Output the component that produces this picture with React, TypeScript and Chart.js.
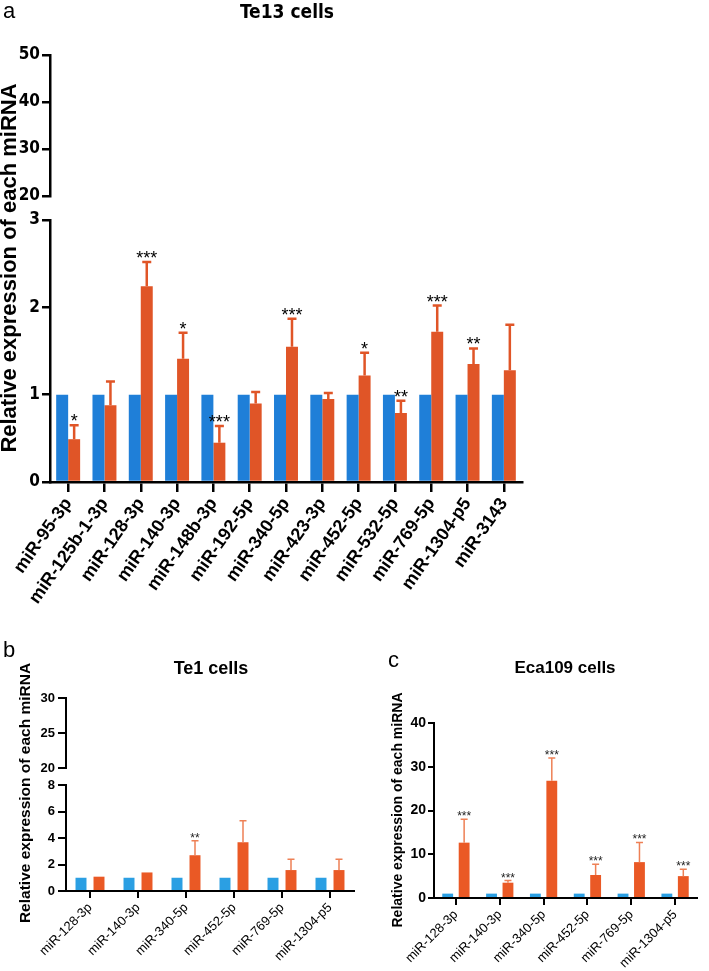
import React, { useEffect, useRef, useState } from 'react';
import { Chart, registerables } from 'chart.js';
Chart.register(...registerables);

// ---------- data ----------
const catsA = ['miR-95-3p', 'miR-125b-1-3p', 'miR-128-3p', 'miR-140-3p', 'miR-148b-3p', 'miR-192-5p', 'miR-340-5p', 'miR-423-3p', 'miR-452-5p', 'miR-532-5p', 'miR-769-5p', 'miR-1304-p5', 'miR-3143'];
const controlA = [1, 1, 1, 1, 1, 1, 1, 1, 1, 1, 1, 1, 1];
const meanA = [0.49, 0.88, 2.24, 1.41, 0.45, 0.90, 1.55, 0.95, 1.22, 0.79, 1.72, 1.35, 1.28];
const sdA = [0.16, 0.27, 0.28, 0.30, 0.19, 0.13, 0.32, 0.07, 0.26, 0.14, 0.30, 0.18, 0.52];
const starsA = ['*', '', '***', '*', '***', '', '***', '', '*', '**', '***', '**', ''];

const catsBC = ['miR-128-3p', 'miR-140-3p', 'miR-340-5p', 'miR-452-5p', 'miR-769-5p', 'miR-1304-p5'];
const controlB = [1, 1, 1, 1, 1, 1];
const meanB = [1.08, 1.40, 2.70, 3.68, 1.58, 1.58];
const sdB = [0, 0, 1.10, 1.62, 0.82, 0.82];
const starsB = ['', '', '**', '', '', ''];

const controlC = [1, 1, 1, 1, 1, 1];
const meanC = [12.65, 3.5, 26.8, 5.26, 8.2, 5.0];
const sdC = [5.35, 0.5, 5.2, 2.44, 4.5, 1.6];
const starsC = ['***', '***', '***', '***', '***', '***'];

const yTicksATop = [20, 30, 40, 50];
const yTicksABottom = [0, 1, 2, 3];
const yTicksBTop = [20, 25, 30];
const yTicksBBottom = [0, 2, 4, 6, 8];
const yTicksC = [0, 10, 20, 30, 40];

const yTitle = 'Relative expression of each miRNA';

const FONT = '"Liberation Sans", Arial, Helvetica, sans-serif';
const NARROW = '"DejaVu Sans Condensed", "Liberation Sans", sans-serif';

// ---------- plugins ----------
function makeErrPlugin(sd: number[], stars: string[], s: any) {
  return {
    id: 'errStars',
    afterDatasetsDraw(chart: any) {
      const meta = chart.getDatasetMeta(1);
      const y = chart.scales.y;
      const ctx = chart.ctx;
      const data = chart.data.datasets[1].data as number[];
      ctx.save();
      meta.data.forEach((bar: any, i: number) => {
        const mean = data[i];
        const x = bar.x;
        const yb = y.getPixelForValue(mean);
        const yt = y.getPixelForValue(mean + sd[i]);
        if (sd[i] > 0) {
          ctx.strokeStyle = s.errColor;
          ctx.lineWidth = s.errW;
          ctx.beginPath();
          ctx.moveTo(x, yb);
          ctx.lineTo(x, yt);
          ctx.moveTo(x - s.cap / 2, yt);
          ctx.lineTo(x + s.cap / 2, yt);
          ctx.stroke();
        }
        if (stars[i]) {
          ctx.fillStyle = s.starColor;
          ctx.font = s.starFont;
          ctx.textAlign = 'center';
          ctx.textBaseline = 'alphabetic';
          ctx.fillText(stars[i], x, yt + s.starOff);
        }
      });
      ctx.restore();
    },
  };
}

// texts given in page coordinates; ox/oy = canvas offset on the page
function makeTextPlugin(texts: any[], ox: number, oy: number) {
  return {
    id: 'panelTexts',
    afterDraw(chart: any) {
      const ctx = chart.ctx;
      texts.forEach((t) => {
        ctx.save();
        ctx.fillStyle = '#000';
        ctx.font = t.font;
        ctx.textAlign = t.align || 'left';
        ctx.textBaseline = 'alphabetic';
        ctx.translate(t.x - ox, t.y - oy);
        if (t.rot) ctx.rotate(t.rot);
        ctx.fillText(t.text, 0, 0);
        ctx.restore();
      });
    },
  };
}

function yAxis(p: any, min: number, max: number, ticks: number[], extra: any) {
  return {
    type: 'linear',
    display: true,
    min,
    max,
    afterBuildTicks: (scale: any) => { scale.ticks = ticks.map((v: number) => ({ value: v })); },
    grid: { display: true, drawOnChartArea: false, drawTicks: true, tickLength: p.yTickLen, color: '#000', lineWidth: p.axisW },
    border: { display: true, color: '#000', width: p.axisW },
    ticks: { padding: p.yPad, color: '#000', font: p.yFont },
    afterFit: (scale: any) => { scale.width = p.yWidth; },
    ...extra,
  };
}

function buildConfig(p: any) {
  const datasets = [
    { label: 'control', data: p.control, yAxisID: 'y', backgroundColor: p.blue, barPercentage: p.barPct, categoryPercentage: p.catPct },
    { label: 'treated', data: p.mean, yAxisID: 'y', backgroundColor: p.orange, barPercentage: p.barPct, categoryPercentage: p.catPct },
  ];
  const scales: any = {
    x: {
      grid: { offset: false, drawOnChartArea: false, tickLength: p.xTickLen, color: '#000', lineWidth: p.axisW },
      border: { color: '#000', width: p.axisW },
      ticks: { autoSkip: false, maxRotation: p.rot, minRotation: p.rot, padding: p.xPad, color: '#000', font: p.xFont },
      afterFit: (scale: any) => { scale.height = p.xHeight; },
    },
  };
  if (p.broken) {
    const b = p.broken;
    scales.y = yAxis(p, b.low[0], b.low[1], b.lowTicks, { stack: 'brk', stackWeight: b.wLow });
    scales.yGap = {
      type: 'linear', display: true, min: 0, max: 1, stack: 'brk', stackWeight: b.wGap,
      grid: { display: false }, border: { display: false }, ticks: { display: false },
      afterFit: (scale: any) => { scale.width = p.yWidth; },
    };
    scales.yTop = yAxis(p, b.high[0], b.high[1], b.highTicks, { stack: 'brk', stackWeight: b.wHigh });
  } else {
    scales.y = yAxis(p, p.yMin, p.yMax, p.yTicks, {});
  }
  return {
    type: 'bar',
    data: { labels: p.labels, datasets },
    plugins: [makeErrPlugin(p.sd, p.stars, p.err), makeTextPlugin(p.texts, p.left, p.top)],
    options: {
      responsive: false,
      animation: false,
      devicePixelRatio: 1,
      layout: { padding: p.padding },
      plugins: { legend: { display: false }, tooltip: { enabled: false } },
      scales,
    },
  };
}

function ChartBox({ cfg, onAxis }: any) {
  const ref = useRef<HTMLCanvasElement | null>(null);
  useEffect(() => {
    if (!ref.current) return;
    const chart: any = new Chart(ref.current, buildConfig(cfg) as any);
    const t = chart.scales.yTop;
    if (t && onAxis) {
      // geometry of the upper axis segment, taken from the chart's own scale
      onAxis({
        x: cfg.left + t.right,
        top: cfg.top + t.top,
        bottom: cfg.top + t.bottom,
        ticks: t.ticks.map((_: any, i: number) => cfg.top + t.getPixelForTick(i)),
        w: cfg.axisW,
        len: cfg.yTickLen,
      });
    }
    return () => chart.destroy();
  }, []);
  return (
    <canvas
      ref={ref}
      width={cfg.width}
      height={cfg.height}
      style={{ position: 'absolute', left: cfg.left, top: cfg.top, width: cfg.width, height: cfg.height }}
    />
  );
}

function AxisSegment({ a }: any) {
  return (
    <>
      <div style={{ position: 'absolute', left: a.x - a.w / 2, top: a.top - a.w / 2, width: a.w, height: a.bottom - a.top + a.w, background: '#000' }} />
      {a.ticks.map((ty: number, i: number) => (
        <div key={i} style={{ position: 'absolute', left: a.x - a.len, top: ty - a.w / 2, width: a.len, height: a.w, background: '#000' }} />
      ))}
    </>
  );
}

// ---------- panel configs ----------
const blueA = '#1f7fd8';
const orangeA = '#e05527';
const blueB = '#2b9fe3';
const orangeB = '#ea5925';
const UP = -Math.PI / 2;

const errA = { errColor: orangeA, errW: 2.5, cap: 9, starColor: '#000', starFont: `18px ${FONT}`, starOff: 2 };
const errBC = { errColor: '#ee8055', errW: 1.5, cap: 7, starColor: '#222', starFont: `12px ${FONT}`, starOff: 1 };

const cfgA = {
  left: 0, top: 0, width: 540, height: 605,
  labels: catsA, control: controlA, mean: meanA, sd: sdA, stars: starsA,
  blue: blueA, orange: orangeA, catPct: 0.66, barPct: 1,
  axisW: 2.5, yTickLen: 8, xTickLen: 10, yPad: 2, xPad: 2, rot: 55,
  yFont: { family: NARROW, size: 17, weight: 'bold' },
  xFont: { family: FONT, size: 18, weight: 'bold' },
  yWidth: 50, err: errA,
  broken: { low: [0, 3], lowTicks: yTicksABottom, high: [20, 50], highTicks: yTicksATop, wLow: 262, wGap: 24, wHigh: 141 },
  padding: { top: 55, bottom: 0, left: 0, right: 18 }, xHeight: 123,
  texts: [
    { text: 'a', x: 3, y: 18, font: `22px ${FONT}` },
    { text: 'Te13 cells', x: 287, y: 18, font: `bold 19px ${NARROW}`, align: 'center' },
    { text: yTitle, x: 16, y: 268, font: `bold 22px ${FONT}`, align: 'center', rot: UP },
  ],
};

const cfgB = {
  left: 0, top: 630, width: 370, height: 341,
  labels: catsBC, control: controlB, mean: meanB, sd: sdB, stars: starsB,
  blue: blueB, orange: orangeB, catPct: 0.75, barPct: 0.61,
  axisW: 2, yTickLen: 8, xTickLen: 7, yPad: 3, xPad: 2, rot: 45,
  yFont: { family: FONT, size: 13, weight: 'bold' },
  xFont: { family: FONT, size: 13, weight: 'normal' },
  yWidth: 66, err: errBC,
  broken: { low: [0, 8], lowTicks: yTicksBBottom, high: [20, 30], highTicks: yTicksBTop, wLow: 106, wGap: 17, wHigh: 70 },
  padding: { top: 68, bottom: 0, left: 0, right: 16 }, xHeight: 80,
  texts: [
    { text: 'b', x: 3, y: 657, font: `22px ${FONT}` },
    { text: 'Te1 cells', x: 211, y: 674, font: `bold 18px ${FONT}`, align: 'center' },
    { text: yTitle, x: 30, y: 793, font: `bold 15.5px ${FONT}`, align: 'center', rot: UP },
  ],
};

const cfgC = {
  left: 370, top: 640, width: 339, height: 331,
  labels: catsBC, control: controlC, mean: meanC, sd: sdC, stars: starsC,
  blue: blueB, orange: orangeB, catPct: 0.75, barPct: 0.66,
  axisW: 2, yTickLen: 6, xTickLen: 7, yPad: 2, xPad: 2, rot: 45,
  yFont: { family: FONT, size: 14, weight: 'bold' },
  xFont: { family: FONT, size: 13, weight: 'normal' },
  yWidth: 64, err: errBC,
  yMin: 0, yMax: 40, yTicks: yTicksC,
  padding: { top: 83, bottom: 0, left: 0, right: 12 }, xHeight: 73,
  texts: [
    { text: 'c', x: 388, y: 667, font: `22px ${FONT}` },
    { text: 'Eca109 cells', x: 565, y: 673, font: `bold 17px ${FONT}`, align: 'center' },
    { text: yTitle, x: 402, y: 810, font: `bold 14px ${FONT}`, align: 'center', rot: UP },
  ],
};

export default function App() {
  const [axA, setAxA] = useState<any>(null);
  const [axB, setAxB] = useState<any>(null);
  return (
    <div style={{ position: 'absolute', left: 0, top: 0, width: 709, height: 971, background: '#fff' }}>
      <ChartBox cfg={cfgA} onAxis={setAxA} />
      <ChartBox cfg={cfgB} onAxis={setAxB} />
      <ChartBox cfg={cfgC} />
      {axA && <AxisSegment a={axA} />}
      {axB && <AxisSegment a={axB} />}
    </div>
  );
}
